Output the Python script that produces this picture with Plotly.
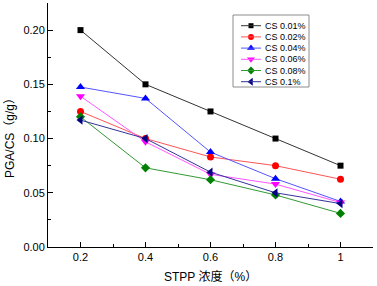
import plotly.graph_objects as go

stpp = [0.2, 0.4, 0.6, 0.8, 1.0]
x_tick_vals = [0.2, 0.4, 0.6, 0.8, 1.0]
x_tick_text = ["0.2", "0.4", "0.6", "0.8", "1"]
y_tick_vals = [0.0, 0.05, 0.10, 0.15, 0.20]

names = ["CS 0.01%", "CS 0.02%", "CS 0.04%", "CS 0.06%", "CS 0.08%", "CS 0.1%"]
cs001 = [0.200, 0.150, 0.125, 0.100, 0.075]
cs002 = [0.125, 0.100, 0.083, 0.075, 0.0625]
cs004 = [0.1475, 0.137, 0.0875, 0.063, 0.042]
cs006 = [0.139, 0.097, 0.067, 0.058, 0.041]
cs008 = [0.120, 0.073, 0.062, 0.048, 0.031]
cs01 = [0.117, 0.100, 0.069, 0.050, 0.040]
series = [cs001, cs002, cs004, cs006, cs008, cs01]

colors = ["#000000", "#ff0000", "#0000ff", "#ff00ff", "#008000", "#000080"]
line_colors = ["#333333", "#ff5555", "#5555ff", "#ff55ff", "#339933", "#333399"]
symbols = ["square", "circle", "triangle-up", "triangle-down", "diamond", "triangle-left"]
sizes = [6, 7, 8, 8, 7, 8]

W, H = 377, 286
ML, MR, MT, MB = 48, 4, 3, 39
PL, PR, PT, PB = ML, W - MR, MT, H - MB  # plot area in pixels


def px_to_paper_x(px):
    return (px - PL) / (PR - PL)


def px_to_paper_y(py):
    return (PB - py) / (PB - PT)


fig = go.Figure()
for name, ys, c, lc, s, sz in zip(names, series, colors, line_colors, symbols, sizes):
    fig.add_trace(go.Scatter(
        x=stpp, y=ys, name=name, mode="lines+markers",
        line=dict(color=lc, width=1),
        marker=dict(symbol=s, color=c, size=sz, line=dict(width=0)),
        showlegend=False,
    ))

# custom compact legend drawn on a pixel-based overlay axis
leg_box = (233, 15, 309, 87)
leg_row0, leg_dy = 25.7, 11.2
leg_line_x0, leg_line_x1, leg_mark_x, leg_text_x = 241, 261, 251, 263

shapes = [dict(type="rect", xref="x2", yref="y2",
               x0=leg_box[0], y0=leg_box[1], x1=leg_box[2], y1=leg_box[3],
               line=dict(color="#8c8c8c", width=1), fillcolor="white", layer="below")]
annotations = []
for i, (name, c, lc, s, sz) in enumerate(zip(names, colors, line_colors, symbols, sizes)):
    ry = leg_row0 + i * leg_dy
    shapes.append(dict(type="line", xref="x2", yref="y2",
                       x0=leg_line_x0, x1=leg_line_x1, y0=ry, y1=ry,
                       line=dict(color=lc, width=1)))
    fig.add_trace(go.Scatter(
        x=[leg_mark_x], y=[ry], xaxis="x2", yaxis="y2", mode="markers",
        marker=dict(symbol=s, color=c, size=sz - 1, line=dict(width=0)),
        showlegend=False, hoverinfo="skip",
    ))
    annotations.append(dict(x=leg_text_x, y=ry, xref="x2", yref="y2", text=name,
                            showarrow=False, xanchor="left", yanchor="middle",
                            font=dict(family="Liberation Sans, Arial, sans-serif", size=9, color="#000000")))

title_font = dict(family="Liberation Sans, Noto Sans CJK SC, sans-serif", size=12, color="#000000")
annotations.append(dict(x=0.5, y=px_to_paper_y(276), xref="paper", yref="paper", text="STPP 浓度（%）",
                        showarrow=False, xanchor="center", yanchor="middle", font=title_font))
annotations.append(dict(x=px_to_paper_x(10), y=px_to_paper_y(135), xref="paper", yref="paper",
                        text="PGA/CS（g/g）", textangle=-90,
                        showarrow=False, xanchor="center", yanchor="middle", font=title_font))

axis_font = dict(family="Liberation Sans, Arial, sans-serif", size=11, color="#000000")

fig.update_layout(
    width=W, height=H,
    margin=dict(l=ML, r=MR, t=MT, b=MB),
    paper_bgcolor="white", plot_bgcolor="white",
    font=dict(family="Liberation Sans, Noto Sans CJK SC, sans-serif", size=11, color="#000000"),
    showlegend=False,
    shapes=shapes,
    annotations=annotations,
    xaxis=dict(
        range=[0.1, 1.1], tickvals=x_tick_vals, ticktext=x_tick_text, automargin=False,
        showgrid=False, zeroline=False, showline=True, linecolor="#000000", linewidth=1,
        ticks="inside", ticklen=5, tickcolor="#000000",
        minor=dict(tickvals=[0.1, 0.3, 0.5, 0.7, 0.9, 1.1], ticks="inside", ticklen=3, tickcolor="#000000"),
        tickfont=axis_font,
    ),
    yaxis=dict(
        range=[0, 0.225], tickvals=y_tick_vals, tickformat=".2f", automargin=False,
        showgrid=False, zeroline=False, showline=True, linecolor="#000000", linewidth=1,
        ticks="inside", ticklen=5, tickcolor="#000000",
        minor=dict(tickvals=[0.025, 0.075, 0.125, 0.175, 0.225], ticks="inside", ticklen=3, tickcolor="#000000"),
        tickfont=axis_font,
    ),
    xaxis2=dict(overlaying="x", range=[PL, PR], visible=False, fixedrange=True),
    yaxis2=dict(overlaying="y", range=[PB, PT], visible=False, fixedrange=True),
)

fig.write_html("out.html", config={"displayModeBar": False},
               post_script="document.body.style.margin='0';")
